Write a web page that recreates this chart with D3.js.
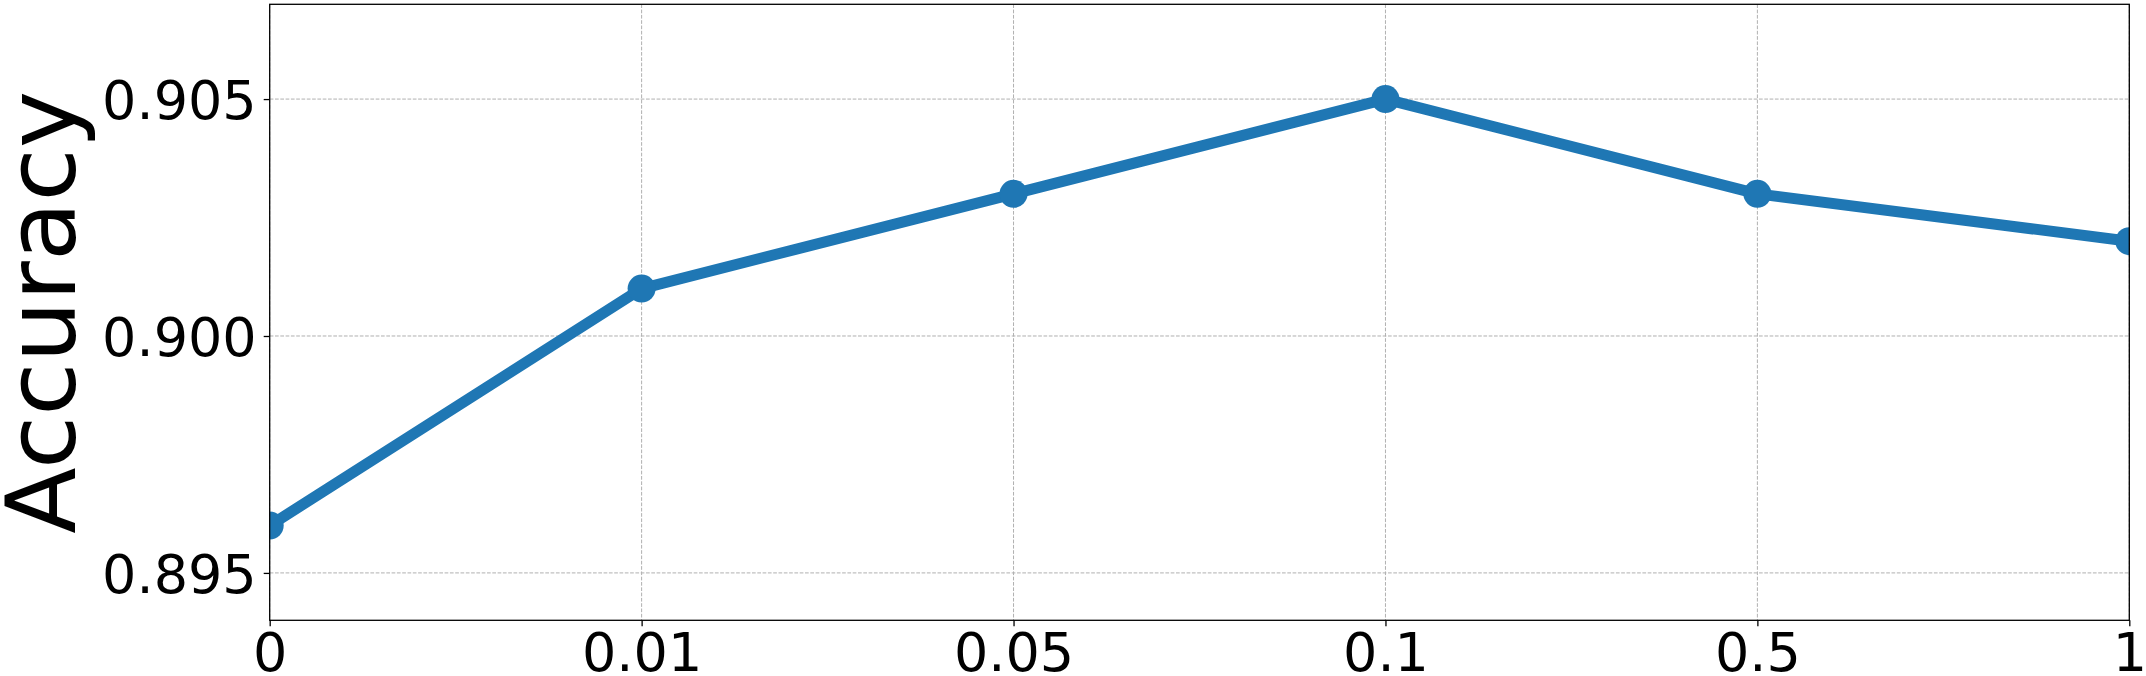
<!DOCTYPE html>
<html>
<head>
<meta charset="utf-8">
<script src="https://cdn.jsdelivr.net/npm/d3@7"></script>
<style>
  html, body { margin: 0; padding: 0; background: #fff; }
  svg { display: block; }
</style>
</head>
<body>
<svg id="chart"></svg>
<script>
// accuracy vs. weight
const categories = ["0", "0.01", "0.05", "0.1", "0.5", "1"];
const accuracy = [0.896, 0.901, 0.903, 0.905, 0.903, 0.902];
const yTicks = [0.895, 0.900, 0.905];

const width = 2146, height = 676;
const plotLeft = 269.7, plotRight = 2129.3, plotTop = 4.3, plotBottom = 620.3;
const LINE = "#1f77b4";
const FONT = "DejaVu Sans, sans-serif";

const svg = d3.select("#chart").attr("width", width).attr("height", height);

const x = d3.scalePoint().domain(categories).range([plotLeft, plotRight]).padding(0);
const y = d3.scaleLinear().domain([0.894, 0.907]).range([plotBottom, plotTop]);

svg.append("defs").append("clipPath").attr("id", "plot-clip")
  .append("rect")
  .attr("x", plotLeft).attr("y", plotTop)
  .attr("width", plotRight - plotLeft).attr("height", plotBottom - plotTop);

// grid
const grid = svg.append("g").attr("stroke", "#b0b0b0").attr("stroke-width", 1)
  .attr("stroke-dasharray", "3.7,1.6");
grid.selectAll("line.gx")
  .data(categories)
  .join("line")
  .attr("class", "gx")
  .attr("x1", d => x(d)).attr("x2", d => x(d))
  .attr("y1", plotTop).attr("y2", plotBottom);
grid.selectAll("line.gy")
  .data(yTicks)
  .join("line")
  .attr("class", "gy")
  .attr("x1", plotLeft).attr("x2", plotRight)
  .attr("y1", d => y(d)).attr("y2", d => y(d));

// series
const plot = svg.append("g").attr("clip-path", "url(#plot-clip)");
const line = d3.line().x((d, i) => x(categories[i])).y(d => y(d));
plot.append("path")
  .datum(accuracy)
  .attr("fill", "none")
  .attr("stroke", LINE)
  .attr("stroke-width", 11)
  .attr("stroke-linejoin", "round")
  .attr("d", line);
plot.selectAll("circle")
  .data(accuracy)
  .join("circle")
  .attr("cx", (d, i) => x(categories[i]))
  .attr("cy", d => y(d))
  .attr("r", 14)
  .attr("fill", LINE);

// axes
const xAxis = svg.append("g")
  .attr("transform", `translate(0,${plotBottom})`)
  .call(d3.axisBottom(x).tickSize(6).tickPadding(6));
const yAxis = svg.append("g")
  .attr("transform", `translate(${plotLeft},0)`)
  .call(d3.axisLeft(y).tickValues(yTicks).tickFormat(d3.format(".3f")).tickSize(6).tickPadding(7));

for (const ax of [xAxis, yAxis]) {
  ax.select(".domain").remove();
  ax.selectAll(".tick line").attr("stroke", "#000").attr("stroke-width", 1.3);
  ax.selectAll(".tick text")
    .attr("fill", "#000")
    .attr("font-family", FONT)
    .attr("font-size", 54);
}
xAxis.selectAll(".tick text").attr("dy", "0.71em");
yAxis.selectAll(".tick text").attr("dy", "0.36em");

// frame
svg.append("rect")
  .attr("x", plotLeft).attr("y", plotTop)
  .attr("width", plotRight - plotLeft).attr("height", plotBottom - plotTop)
  .attr("fill", "none")
  .attr("stroke", "#000")
  .attr("stroke-width", 1.3);

// y label
svg.append("text")
  .attr("transform", `translate(75,${(plotTop + plotBottom) / 2}) rotate(-90)`)
  .attr("text-anchor", "middle")
  .attr("font-family", FONT)
  .attr("font-size", 97)
  .attr("fill", "#000")
  .text("Accuracy");
</script>
</body>
</html>
